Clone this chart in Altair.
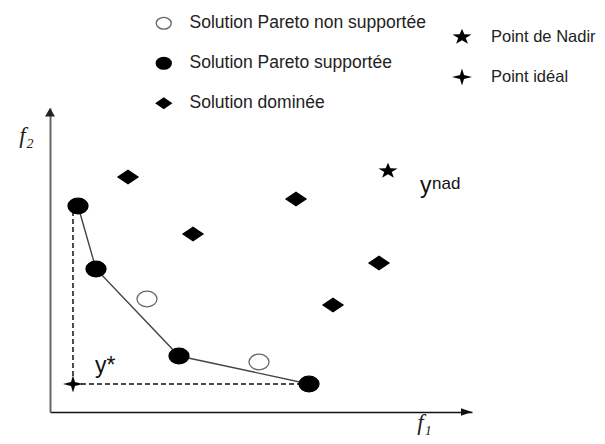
import altair as alt
import pandas as pd

# ---- data (objective space f1 / f2, arbitrary units) ----
sol_names = ["Solution Pareto non supportée", "Solution Pareto supportée", "Solution dominée"]
ref_names = ["Point de Nadir", "Point idéal"]

# supported Pareto solutions (filled circles)
sup_f1 = [2.8, 4.6, 12.9, 25.9]
sup_f2 = [20.6, 14.3, 5.6, 2.8]
# unsupported Pareto solutions (open circles)
nsup_f1 = [9.7, 20.9]
nsup_f2 = [11.3, 5.0]
# dominated solutions (diamonds)
dom_f1 = [7.8, 14.3, 24.6, 32.9, 28.3]
dom_f2 = [23.5, 17.8, 21.3, 14.9, 10.7]
# nadir point and ideal point
ref_f1 = [33.8, 2.3]
ref_f2 = [24.1, 2.8]

# annotations
ann_labels = ["y*", "y", "nad"]
ann_f1 = [4.5, 37.0, 38.2]
ann_f2 = [3.9, 21.9, 22.3]

axis_f1_max = 42.2
axis_f2_max = 30.4

# ---- tables ----
sol_df = pd.DataFrame({
    "f1": nsup_f1 + sup_f1 + dom_f1,
    "f2": nsup_f2 + sup_f2 + dom_f2,
    "type": [sol_names[0]] * len(nsup_f1) + [sol_names[1]] * len(sup_f1) + [sol_names[2]] * len(dom_f1),
})
front_df = pd.DataFrame({"f1": sup_f1, "f2": sup_f2})
ref_df = pd.DataFrame({"f1": ref_f1, "f2": ref_f2, "ref": ref_names})
ideal_f1, ideal_f2 = ref_f1[1], ref_f2[1]
dash_df = pd.DataFrame({
    "seg": ["v", "v", "h", "h"],
    "ord": [0, 1, 0, 1],
    "f1": [ideal_f1, ideal_f1, ideal_f1, sup_f1[-1]],
    "f2": [ideal_f2, sup_f2[0], ideal_f2, ideal_f2],
})
ann_df = pd.DataFrame({"label": ann_labels, "f1": ann_f1, "f2": ann_f2})
xarrow_df = pd.DataFrame({"f1": [axis_f1_max], "f2": [0.0]})
yarrow_df = pd.DataFrame({"f1": [0.0], "f2": [axis_f2_max]})

# ---- symbol shapes ----
ELLIPSE = "M-1,0 A1,0.78 0 1,1 1,0 A1,0.78 0 1,1 -1,0 Z"
DIAMOND = "M-1,0 L0,-0.68 L1,0 L0,0.68 Z"
STAR = ("M0,-0.82 L0.235,-0.266 L0.951,-0.253 L0.380,0.102 L0.588,0.663 "
        "L0,0.328 L-0.588,0.663 L-0.380,0.102 L-0.951,-0.253 L-0.235,-0.266 Z")
SPARKLE = "M0,-0.85 L0.2,-0.2 L1,0 L0.2,0.2 L0,0.85 L-0.2,0.2 L-1,0 L-0.2,-0.2 Z"
ARROW_X = "M0,0 L-1.1,-0.38 L-1.1,0.38 Z"
ARROW_Y = "M0,0 L-0.5,0.85 L0.5,0.85 Z"

FONT = "Liberation Sans"

xscale = alt.Scale(domain=[0, axis_f1_max], nice=False, zero=False)
yscale = alt.Scale(domain=[0, axis_f2_max], nice=False, zero=False)
xaxis = alt.Axis(title="f₁", titleFont="Liberation Serif", titleFontStyle="italic",
                 titleFontWeight="normal", titleFontSize=23, titleColor="#222",
                 titleAngle=0, titleX=374, titleY=17, titleAlign="center",
                 titleBaseline="alphabetic", ticks=False, labels=False, grid=False,
                 domainColor="#111", domainWidth=1.5)
yaxis = alt.Axis(title="f₂", titleFont="Liberation Serif", titleFontStyle="italic",
                 titleFontWeight="normal", titleFontSize=23, titleColor="#222",
                 titleAngle=0, titleX=-24, titleY=34, titleAlign="center",
                 titleBaseline="alphabetic", ticks=False, labels=False, grid=False,
                 domainColor="#666", domainWidth=2)
X = alt.X("f1:Q", scale=xscale, axis=xaxis)
Y = alt.Y("f2:Q", scale=yscale, axis=yaxis)

legA = alt.Legend(title=None, orient="none", legendX=105, legendY=-93.5, padding=0,
                  symbolSize=225, symbolStrokeWidth=1.3, symbolOpacity=1,
                  labelFont=FONT, labelFontSize=17.5, labelColor="#222", labelLimit=400,
                  labelOffset=17, rowPadding=21, direction="vertical")
legB = alt.Legend(title=None, orient="none", legendX=402, legendY=-81, padding=0,
                  symbolSize=400, symbolStrokeWidth=0, symbolOpacity=1,
                  labelFont=FONT, labelFontSize=16.5, labelColor="#222", labelLimit=400,
                  labelOffset=19, rowPadding=21, direction="vertical")

dashes = alt.Chart(dash_df).mark_line(color="#111", strokeWidth=1.5, strokeDash=[5, 3]).encode(
    x=X, y=Y, detail="seg:N", order="ord:Q")

front = alt.Chart(front_df).mark_line(color="#444", strokeWidth=1.4).encode(
    x=X, y=Y, order="f1:Q")

sols = alt.Chart(sol_df).mark_point(size=400, strokeWidth=1.3, opacity=1).encode(
    x=X, y=Y,
    shape=alt.Shape("type:N", scale=alt.Scale(domain=sol_names, range=[ELLIPSE, ELLIPSE, DIAMOND]), legend=legA),
    fill=alt.Fill("type:N", scale=alt.Scale(domain=sol_names, range=["white", "black", "black"]), legend=legA),
    stroke=alt.Stroke("type:N", scale=alt.Scale(domain=sol_names, range=["#666", "black", "black"]), legend=legA),
)

refs = alt.Chart(ref_df).mark_point(size=400, strokeWidth=0, opacity=1, filled=True).encode(
    x=X, y=Y,
    shape=alt.Shape("ref:N", scale=alt.Scale(domain=ref_names, range=[STAR, SPARKLE]), legend=legB),
    fill=alt.Fill("ref:N", scale=alt.Scale(domain=ref_names, range=["black", "black"]), legend=legB),
)

ann_big = alt.Chart(ann_df).transform_filter(alt.datum.label != "nad").mark_text(
    align="left", baseline="alphabetic", font=FONT, fontSize=23, color="#111").encode(
    x=X, y=Y, text="label:N")
ann_small = alt.Chart(ann_df).transform_filter(alt.datum.label == "nad").mark_text(
    align="left", baseline="alphabetic", font=FONT, fontSize=17, color="#111").encode(
    x=X, y=Y, text="label:N")

xarrow = alt.Chart(xarrow_df).mark_point(shape=ARROW_X, size=400, filled=True, color="#111",
                                          opacity=1, strokeWidth=0).encode(x=X, y=Y)
yarrow = alt.Chart(yarrow_df).mark_point(shape=ARROW_Y, size=400, filled=True, color="#222",
                                          opacity=1, strokeWidth=0).encode(x=X, y=Y)

chart = alt.layer(dashes, front, sols, refs, ann_big, ann_small, xarrow, yarrow).resolve_scale(
    shape="independent", fill="independent", stroke="independent"
).properties(
    width=422, height=304,
    autosize=alt.AutoSizeParams(type="none"),
    padding={"left": 42, "top": 100, "right": 125, "bottom": 24},
    background="white",
).configure_view(stroke=None)

chart.save("out.html", embed_options={"renderer": "svg", "actions": False})
